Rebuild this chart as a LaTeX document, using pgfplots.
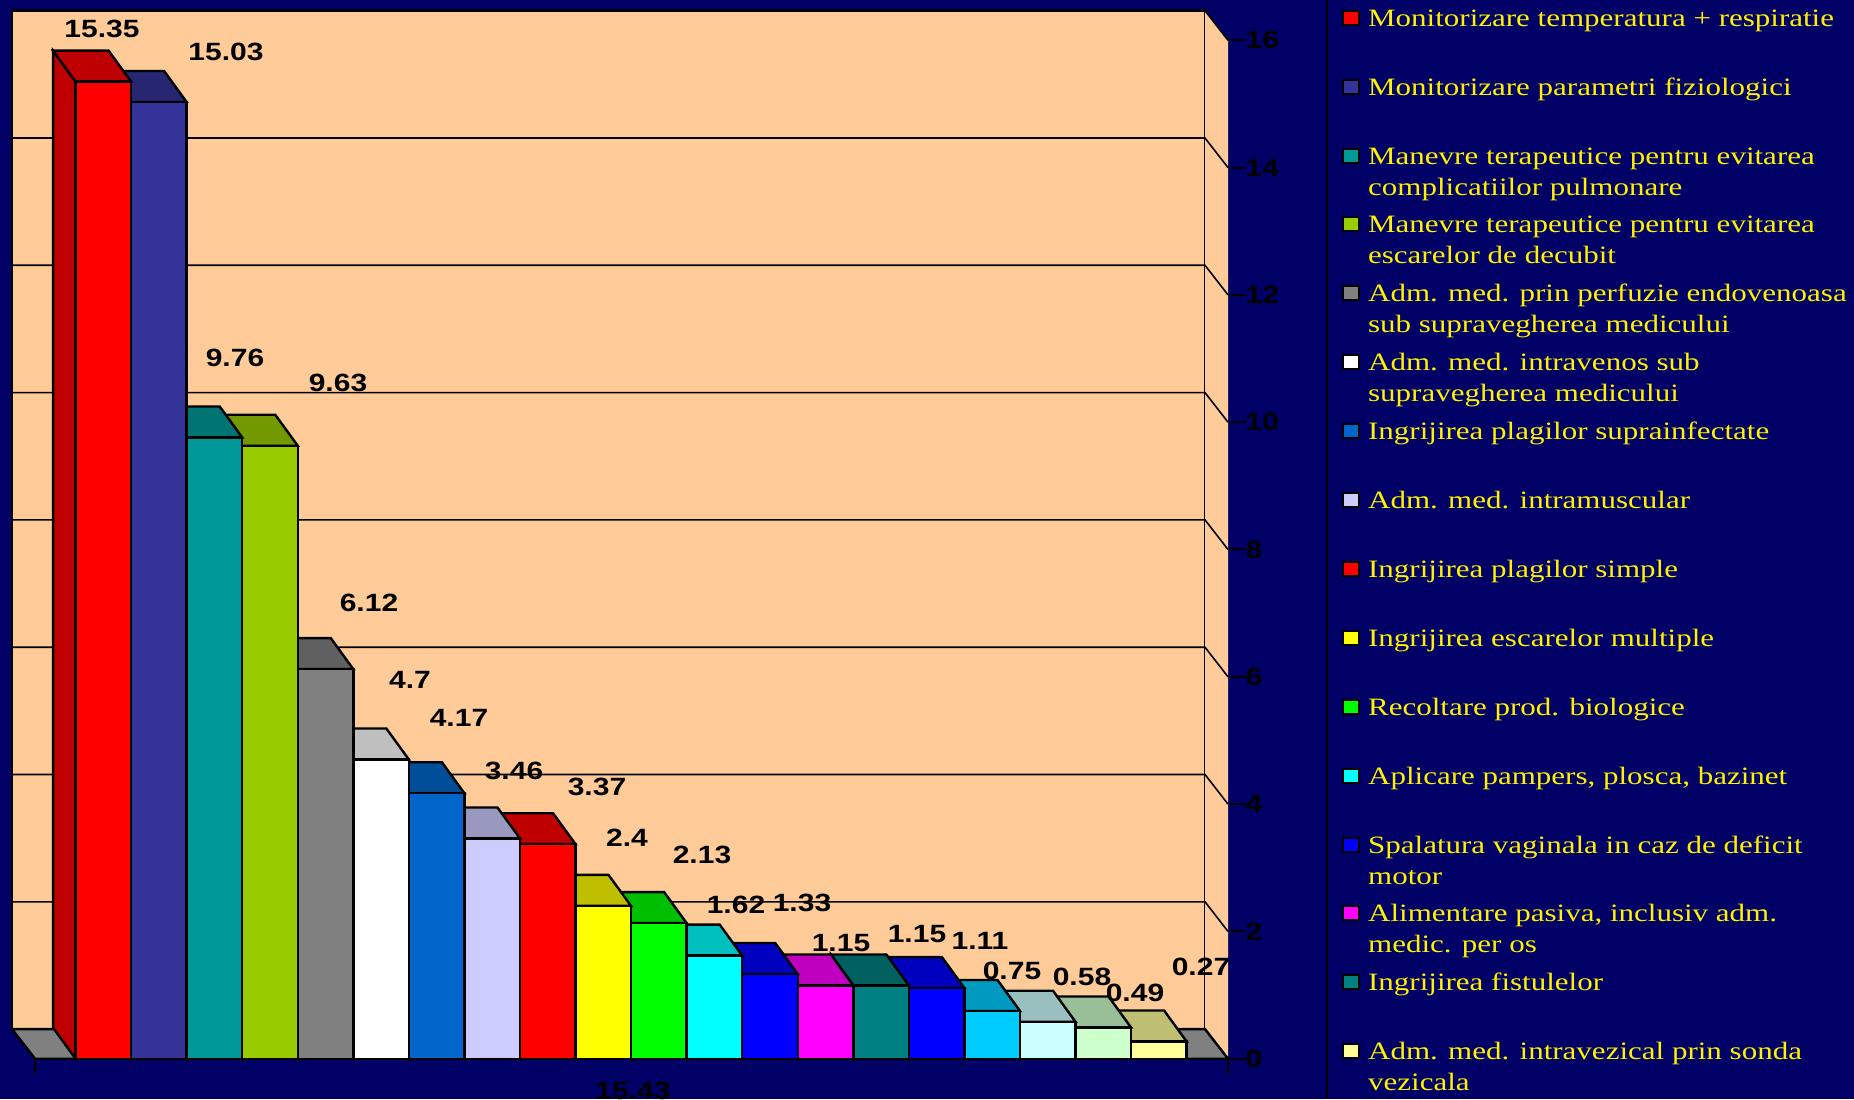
\documentclass[border=0pt]{standalone}
\usepackage{fontspec}
\usepackage{pgfplots}
\pgfplotsset{compat=1.18}
\setmainfont{Liberation Serif}
\newfontfamily\labfont[FakeStretch=1.2]{Liberation Sans}
\newfontfamily\keyfont[FakeStretch=1.24]{Liberation Serif}
\definecolor{navybg}{HTML}{000066}
\definecolor{peach}{HTML}{FFCC99}
\definecolor{floorgray}{HTML}{808080}
\newcommand{\hx}[1]{\definecolor{h#1}{HTML}{#1}}
\hx{FF0000}\hx{333399}\hx{009999}\hx{99CC00}\hx{808080}\hx{FFFFFF}\hx{0066CC}\hx{CCCCFF}\hx{FFFF00}
\hx{00FF00}\hx{00FFFF}\hx{0000FF}\hx{FF00FF}\hx{008080}\hx{00CCFF}\hx{CCFFFF}\hx{CCFFCC}\hx{FFFF99}
\hx{BF0000}\hx{262673}\hx{007373}\hx{739900}\hx{606060}\hx{BFBFBF}\hx{004D99}\hx{9999BF}\hx{BFBF00}
\hx{00BF00}\hx{00BFBF}\hx{0000BF}\hx{BF00BF}\hx{006060}\hx{0099BF}\hx{99BFBF}\hx{99BF99}\hx{BFBF73}
\newcommand{\numfont}{\labfont\bfseries\fontsize{12.5}{15}\selectfont}

% One bar: left side, top and front face. Args: position, value, front colour, shade colour.
\newcommand{\prism}[4]{%
  \pgfmathsetmacro\xa{#1}%
  \pgfmathsetmacro\xb{#1+1}%
  \pgfmathsetmacro\xc{#1-0.405}%
  \pgfmathsetmacro\xd{#1+1-0.405}%
  \pgfmathsetmacro\xm{#1+0.5}%
  \pgfmathsetmacro\yt{#2+0.487}%
  \addplot[fill=h#4,draw=black,line width=1.2pt,forget plot]
    coordinates {(\xa,0) (\xa,#2) (\xc,\yt) (\xc,0.487)} --cycle;
  \addplot[fill=h#4,draw=black,line width=1.2pt,forget plot]
    coordinates {(\xa,#2) (\xb,#2) (\xd,\yt) (\xc,\yt)} --cycle;
  \addplot[ybar,bar width=1,fill=h#3,draw=black,line width=1.2pt,forget plot]
    coordinates {(\xm,#2)};
}
% One gridline: along the back wall, then down the right wall to the value axis.
\newcommand{\wallline}[1]{%
  \pgfmathsetmacro\yb{#1+0.465}%
  \addplot[black,line width=0.8pt,forget plot]
    coordinates {(-1.144,\yb) (20.331,\yb) (20.745,#1)};
}
\newcommand{\entry}[1]{\smash{\parbox[t]{240pt}{\keyfont\fontsize{12.5}{15.5}\selectfont #1}}}
\newcommand{\val}[3]{\node[font=\numfont,text=black,inner sep=0pt] at (#1,{1099-#2}) {#3};}

\begin{document}
\begin{tikzpicture}[x=0.5pt,y=0.5pt]
\path[use as bounding box,clip] (0,0) rectangle (1854,1099);
\fill[navybg] (0,0) rectangle (1854,1099);
\begin{axis}[
  at={(17.5pt,20.15pt)},anchor=south west,
  scale only axis,width=596.5pt,height=509.2pt,
  xmin=-0.73,xmax=20.745,ymin=0,ymax=16,
  clip=false,
  axis x line*=bottom,axis y line*=right,
  axis line style={black,line width=1.2pt,-},
  y axis line style={draw=none},
  xtick={-0.73,20.745},xticklabels={,},
  ytick={0,2,...,16},
  tick align=outside,
  tick style={black,line width=1pt},
  xtick style={/pgfplots/major tick length=7.5pt},
  ytick style={/pgfplots/major tick length=9pt},
  yticklabel style={font=\numfont,text=black,/pgf/number format/assume math mode=true,xshift=1pt},
  legend style={at={(1.0955,1.030)},anchor=north west,draw=none,fill=none,
    inner sep=0pt,outer sep=0pt,row sep=24.7pt,column sep=4.3pt,
    nodes={text=yellow,inner sep=0pt,outer sep=0pt}},
  legend cell align=left,
  legend image code/.code={\draw[#1,draw=black,line width=1pt] (0,1.5pt) rectangle (19.3pt,8.5pt);},
]
% back wall, floor and right wall
\addplot[fill=peach,draw=black,line width=1.2pt,forget plot]
  coordinates {(-1.144,0.465) (20.331,0.465) (20.331,16.465) (-1.144,16.465)} --cycle;
\addplot[fill=peach,draw=none,forget plot]
  coordinates {(20.331,0.465) (20.745,0) (20.745,16) (20.331,16.465)} --cycle;
\addplot[fill=floorgray,draw=black,line width=1.2pt,forget plot]
  coordinates {(-0.73,0) (20.745,0) (20.331,0.465) (-1.144,0.465)} --cycle;
\wallline{2}\wallline{4}\wallline{6}\wallline{8}\wallline{10}\wallline{12}\wallline{14}\wallline{16}
\wallline{0}
% bars, drawn from the right so that each one overlaps its right-hand neighbour
\prism{19}{0.27}{FFFF99}{BFBF73}
\prism{18}{0.49}{CCFFCC}{99BF99}
\prism{17}{0.58}{CCFFFF}{99BFBF}
\prism{16}{0.75}{00CCFF}{0099BF}
\prism{15}{1.11}{0000FF}{0000BF}
\prism{14}{1.15}{008080}{006060}
\prism{13}{1.15}{FF00FF}{BF00BF}
\prism{12}{1.33}{0000FF}{0000BF}
\prism{11}{1.62}{00FFFF}{00BFBF}
\prism{10}{2.13}{00FF00}{00BF00}
\prism{9}{2.4}{FFFF00}{BFBF00}
\prism{8}{3.37}{FF0000}{BF0000}
\prism{7}{3.46}{CCCCFF}{9999BF}
\prism{6}{4.17}{0066CC}{004D99}
\prism{5}{4.7}{FFFFFF}{BFBFBF}
\prism{4}{6.12}{808080}{606060}
\prism{3}{9.63}{99CC00}{739900}
\prism{2}{9.76}{009999}{007373}
\prism{1}{15.03}{333399}{262673}
\prism{0}{15.35}{FF0000}{BF0000}
% legend
\addlegendimage{fill=hFF0000}\addlegendentry{\entry{Monitorizare temperatura + respiratie}}
\addlegendimage{fill=h333399}\addlegendentry{\entry{Monitorizare parametri fiziologici}}
\addlegendimage{fill=h009999}\addlegendentry{\entry{Manevre terapeutice pentru evitarea\\complicatiilor pulmonare}}
\addlegendimage{fill=h99CC00}\addlegendentry{\entry{Manevre terapeutice pentru evitarea\\escarelor de decubit}}
\addlegendimage{fill=h808080}\addlegendentry{\entry{Adm. med. prin perfuzie endovenoasa\\sub supravegherea medicului}}
\addlegendimage{fill=hFFFFFF}\addlegendentry{\entry{Adm. med. intravenos sub\\supravegherea medicului}}
\addlegendimage{fill=h0066CC}\addlegendentry{\entry{Ingrijirea plagilor suprainfectate}}
\addlegendimage{fill=hCCCCFF}\addlegendentry{\entry{Adm. med. intramuscular}}
\addlegendimage{fill=hFF0000}\addlegendentry{\entry{Ingrijirea plagilor simple}}
\addlegendimage{fill=hFFFF00}\addlegendentry{\entry{Ingrijirea escarelor multiple}}
\addlegendimage{fill=h00FF00}\addlegendentry{\entry{Recoltare prod. biologice}}
\addlegendimage{fill=h00FFFF}\addlegendentry{\entry{Aplicare pampers, plosca, bazinet}}
\addlegendimage{fill=h0000FF}\addlegendentry{\entry{Spalatura vaginala in caz de deficit\\motor}}
\addlegendimage{fill=hFF00FF}\addlegendentry{\entry{Alimentare pasiva, inclusiv adm.\\medic. per os}}
\addlegendimage{fill=h008080}\addlegendentry{\entry{Ingrijirea fistulelor}}
\addlegendimage{fill=hFFFF99}\addlegendentry{\entry{Adm. med. intravezical prin sonda\\vezicala}}
\end{axis}
% legend separator
\draw[black,line width=1pt] (1327,0) -- (1327,1099);
% value labels
\val{102}{29}{15.35}
\val{226}{52}{15.03}
\val{235}{358}{9.76}
\val{338}{383}{9.63}
\val{369}{603}{6.12}
\val{410}{680}{4.7}
\val{459}{718}{4.17}
\val{514}{771}{3.46}
\val{597}{787}{3.37}
\val{627}{838}{2.4}
\val{702}{855}{2.13}
\val{736}{905}{1.62}
\val{802}{903}{1.33}
\val{841}{943}{1.15}
\val{917}{934}{1.15}
\val{980}{941}{1.11}
\val{1012}{971}{0.75}
\val{1082}{977}{0.58}
\val{1135}{993}{0.49}
\val{1201}{967}{0.27}
\val{633}{1091}{15.43}
\end{tikzpicture}
\end{document}
